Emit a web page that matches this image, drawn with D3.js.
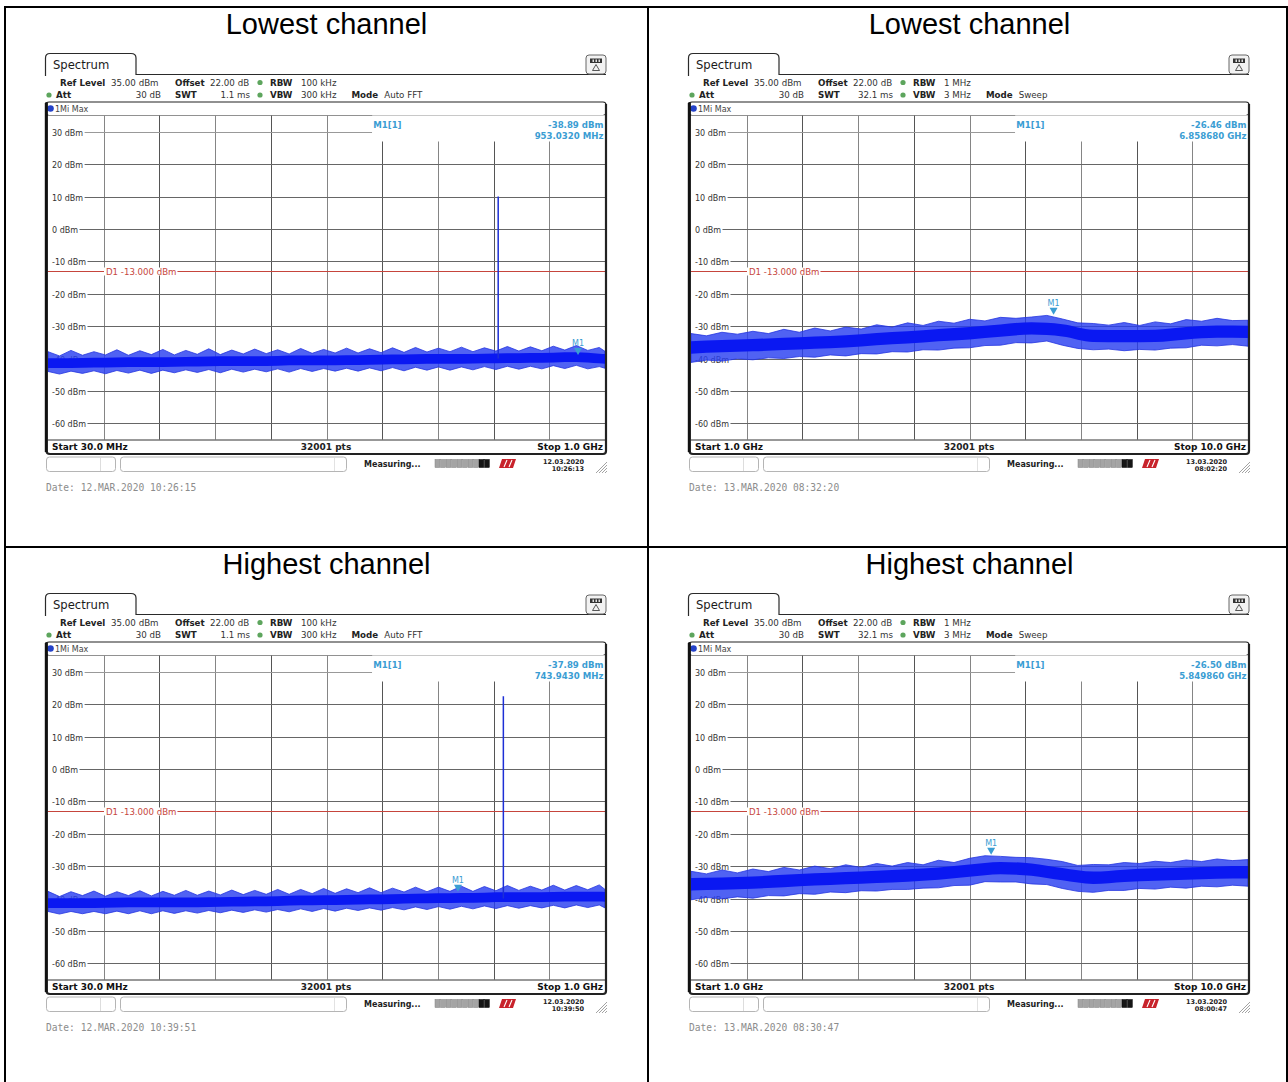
<!DOCTYPE html>
<html><head><meta charset="utf-8">
<script src="https://cdn.jsdelivr.net/npm/d3@7"></script>
<style>body{margin:0;background:#fff}svg{display:block}</style>
</head><body>
<script>
// ---------------- DATA ----------------
const cellTitles = ["Lowest channel", "Lowest channel", "Highest channel", "Highest channel"];
const startFreqMHz = [30, 1000, 30, 1000];
const stopFreqMHz = [1000, 10000, 1000, 10000];
const startLabels = ["Start 30.0 MHz", "Start 1.0 GHz", "Start 30.0 MHz", "Start 1.0 GHz"];
const stopLabels = ["Stop 1.0 GHz", "Stop 10.0 GHz", "Stop 1.0 GHz", "Stop 10.0 GHz"];
const pointsLabel = "32001 pts";
const yTickValues = [30, 20, 10, 0, -10, -20, -30, -40, -50, -60];
const yTickLabels = ["30 dBm", "20 dBm", "10 dBm", "0 dBm", "-10 dBm", "-20 dBm", "-30 dBm", "-40 dBm", "-50 dBm", "-60 dBm"];
const refLevelDbm = 35;
const bottomLevelDbm = -65;
const limitLineDbm = -13;
const limitLabel = "D1  -13.000 dBm";
const refLevelLabel = "35.00 dBm";
const offsetLabel = "22.00 dB";
const attLabel = "30 dB";
const rbwLabels = ["100 kHz", "1 MHz", "100 kHz", "1 MHz"];
const vbwLabels = ["300 kHz", "3 MHz", "300 kHz", "3 MHz"];
const swtLabels = ["1.1 ms", "32.1 ms", "1.1 ms", "32.1 ms"];
const modeLabels = ["Auto FFT", "Sweep", "Auto FFT", "Sweep"];
const traceLabel = "1Mi Max";
const markerName = "M1";
const markerInfoName = "M1[1]";
const markerFreqMHz = [953.032, 6858.68, 743.943, 5849.86];
const markerLevelDbm = [-38.89, -26.46, -37.89, -26.50];
const markerLevelLabels = ["-38.89 dBm", "-26.46 dBm", "-37.89 dBm", "-26.50 dBm"];
const markerFreqLabels = ["953.0320 MHz", "6.858680 GHz", "743.9430 MHz", "5.849860 GHz"];
const spikeFreqMHz = [814, null, 823, null];
const spikeTopDbm = [10.0, null, 22.4, null];
const screenDates = ["12.03.2020", "13.03.2020", "12.03.2020", "13.03.2020"];
const screenTimes = ["10:26:13", "08:02:20", "10:39:50", "08:00:47"];
const footerLabels = ["Date: 12.MAR.2020  10:26:15", "Date: 13.MAR.2020  08:32:20", "Date: 12.MAR.2020  10:39:51", "Date: 13.MAR.2020  08:30:47"];
const statusLabel = "Measuring...";

// noise envelope, 30 MHz - 1 GHz panels (outer, every 20 MHz)
const freqOuterLow = [30,50,70,90,110,130,150,170,190,210,230,250,270,290,310,330,350,370,390,410,430,450,470,490,510,530,550,570,590,610,630,650,670,690,710,730,750,770,790,810,830,850,870,890,910,930,950,970,990,1000];
const p1OuterHi = [-37.9,-39.2,-37.5,-39.0,-37.9,-38.9,-37.3,-39.0,-37.6,-38.8,-37.2,-38.9,-37.5,-38.7,-37.0,-38.8,-37.4,-38.6,-37.1,-38.5,-37.3,-38.6,-36.9,-38.4,-37.2,-38.3,-36.8,-38.3,-37.0,-38.2,-36.7,-38.1,-36.6,-38.0,-36.8,-37.9,-36.5,-37.9,-36.7,-37.7,-36.3,-37.7,-36.4,-37.6,-36.2,-37.4,-36.0,-37.5,-36.6,-37.8];
const p1OuterLo = [-44.0,-44.8,-43.9,-44.6,-43.8,-44.7,-43.7,-44.5,-43.6,-44.6,-43.6,-44.4,-43.5,-44.3,-43.4,-44.4,-43.3,-44.2,-43.3,-44.1,-43.2,-44.2,-43.1,-44.0,-43.1,-43.9,-43.0,-43.9,-42.9,-43.8,-42.8,-43.8,-42.7,-43.6,-42.6,-43.6,-42.6,-43.5,-42.5,-43.4,-42.4,-43.3,-42.4,-43.2,-42.2,-43.1,-42.1,-43.2,-42.5,-43.0];
const p3OuterHi = [-37.8,-39.4,-37.9,-39.1,-37.7,-39.3,-37.9,-39.1,-37.6,-39.2,-37.8,-39.0,-37.5,-39.0,-37.7,-38.9,-37.4,-38.8,-37.5,-38.7,-37.2,-38.7,-37.2,-38.5,-36.9,-38.4,-37.0,-38.2,-36.7,-38.2,-36.8,-38.0,-36.5,-37.9,-36.5,-37.8,-36.2,-37.8,-36.3,-37.6,-36.0,-37.5,-36.2,-37.4,-35.9,-37.4,-36.0,-37.3,-35.8,-37.2];
const p3OuterLo = [-44.0,-44.8,-44.0,-44.7,-44.0,-44.7,-43.9,-44.7,-43.8,-44.7,-43.8,-44.6,-43.8,-44.5,-43.7,-44.4,-43.6,-44.3,-43.5,-44.2,-43.4,-44.1,-43.2,-44.0,-43.1,-43.9,-43.0,-43.7,-42.9,-43.6,-42.8,-43.5,-42.6,-43.4,-42.5,-43.3,-42.4,-43.2,-42.3,-43.1,-42.2,-43.0,-42.2,-42.9,-42.1,-42.9,-42.0,-42.8,-42.0,-42.9];
// dense core of the band (every 40 MHz)
const freqCoreLow = [30,70,110,150,190,230,270,310,350,390,430,470,510,550,590,630,670,710,750,790,830,870,910,950,990,1000];
const p1CoreHi = [-39.9,-39.9,-39.8,-39.7,-39.6,-39.6,-39.5,-39.4,-39.3,-39.3,-39.2,-39.1,-39.1,-39.0,-38.9,-38.8,-38.7,-38.6,-38.6,-38.5,-38.4,-38.3,-38.2,-38.1,-38.5,-38.6];
const p1CoreLo = [-42.9,-42.9,-42.8,-42.7,-42.6,-42.6,-42.5,-42.4,-42.3,-42.3,-42.2,-42.1,-42.1,-42.0,-41.9,-41.8,-41.7,-41.6,-41.6,-41.5,-41.4,-41.3,-41.2,-41.1,-41.5,-41.6];
const p3CoreHi = [-39.9,-39.9,-39.9,-39.8,-39.7,-39.7,-39.7,-39.6,-39.5,-39.4,-39.3,-39.1,-39.0,-38.9,-38.8,-38.7,-38.5,-38.4,-38.3,-38.2,-38.1,-38.1,-38.0,-37.9,-37.9,-38.0];
const p3CoreLo = [-42.9,-42.9,-42.9,-42.8,-42.7,-42.7,-42.7,-42.6,-42.5,-42.4,-42.3,-42.1,-42.0,-41.9,-41.8,-41.7,-41.5,-41.4,-41.3,-41.2,-41.1,-41.1,-41.0,-40.9,-40.9,-41.0];

// noise envelope, 1 GHz - 10 GHz panels (outer every 250 MHz, core every 500 MHz)
const freqOuterHigh = [1000,1250,1500,1750,2000,2250,2500,2750,3000,3250,3500,3750,4000,4250,4500,4750,5000,5250,5500,5750,6000,6250,6500,6750,7000,7250,7500,7750,8000,8250,8500,8750,9000,9250,9500,9750,10000];
const p2OuterHi = [-32.3,-33.0,-31.9,-32.5,-31.6,-32.3,-31.0,-31.9,-30.6,-31.5,-30.3,-30.9,-29.6,-30.3,-29.0,-29.8,-28.5,-29.1,-27.9,-28.4,-27.3,-27.6,-27.2,-26.7,-27.8,-29.0,-29.2,-29.7,-28.9,-29.8,-28.7,-29.3,-28.0,-28.5,-27.6,-28.3,-28.2];
const p2OuterLo = [-41.2,-40.5,-40.8,-40.1,-40.4,-39.8,-40.0,-39.4,-39.6,-38.9,-39.2,-38.5,-38.6,-37.9,-38.0,-37.3,-37.4,-36.8,-36.7,-36.0,-35.9,-35.1,-35.2,-34.6,-35.9,-36.9,-37.3,-37.1,-37.6,-37.2,-37.4,-36.8,-36.7,-35.9,-36.1,-35.7,-36.2];
const p4OuterHi = [-31.6,-32.4,-31.2,-32.1,-30.9,-31.7,-30.4,-31.2,-30.0,-30.8,-29.6,-30.4,-29.2,-30.0,-28.9,-29.6,-28.2,-28.9,-27.6,-26.8,-27.0,-27.3,-27.4,-27.9,-28.6,-29.8,-29.5,-29.6,-28.9,-29.2,-28.5,-28.9,-28.1,-28.6,-27.8,-28.3,-28.0];
const p4OuterLo = [-40.4,-39.7,-40.1,-39.5,-39.9,-39.1,-39.2,-38.5,-38.7,-38.0,-38.2,-37.6,-37.7,-37.2,-37.2,-36.8,-36.7,-36.0,-35.9,-34.8,-34.9,-34.9,-35.5,-35.7,-36.9,-37.8,-38.1,-37.5,-37.5,-36.9,-37.1,-36.5,-36.8,-36.2,-36.4,-35.9,-36.2];
const freqCoreHigh = [1000,1500,2000,2500,3000,3500,4000,4500,5000,5500,6000,6500,7000,7500,8000,8500,9000,9500,10000];
const p2CoreHi = [-34.7,-34.3,-34.0,-33.6,-33.2,-32.8,-32.1,-31.6,-30.9,-30.3,-29.5,-28.8,-29.4,-31.1,-31.2,-31.1,-30.3,-29.8,-29.9];
const p2CoreLo = [-38.5,-38.1,-37.8,-37.4,-37.0,-36.6,-35.9,-35.4,-34.7,-34.1,-33.3,-32.6,-33.2,-34.9,-35.0,-34.9,-34.1,-33.6,-33.7];
const p4CoreHi = [-33.7,-33.5,-33.2,-32.7,-32.2,-31.8,-31.4,-31.0,-30.4,-29.5,-28.7,-29.2,-30.6,-31.7,-31.1,-30.7,-30.4,-30.1,-30.0];
const p4CoreLo = [-37.5,-37.3,-37.0,-36.5,-36.0,-35.6,-35.2,-34.8,-34.2,-33.3,-32.5,-33.0,-34.4,-35.5,-34.9,-34.5,-34.2,-33.9,-33.8];

const outerFreqs = [freqOuterLow, freqOuterHigh, freqOuterLow, freqOuterHigh];
const outerHi = [p1OuterHi, p2OuterHi, p3OuterHi, p4OuterHi];
const outerLo = [p1OuterLo, p2OuterLo, p3OuterLo, p4OuterLo];
const coreFreqs = [freqCoreLow, freqCoreHigh, freqCoreLow, freqCoreHigh];
const coreHi = [p1CoreHi, p2CoreHi, p3CoreHi, p4CoreHi];
const coreLo = [p1CoreLo, p2CoreLo, p3CoreLo, p4CoreLo];

// ---------------- DRAWING ----------------
const W = 1288, H = 1082;
const SANS = "DejaVu Sans, Verdana, sans-serif";
const MARK = "#3a9dd3";
const svg = d3.select("body").append("svg").attr("width", W).attr("height", H);
svg.append("rect").attr("width", W).attr("height", H).attr("fill", "#fff");

const colStep = 643, rowStep = 540;

function txt(g, x, y, s, opt = {}) {
  return g.append("text").attr("x", x).attr("y", y)
    .attr("font-family", opt.family || SANS)
    .attr("font-size", opt.size || 8)
    .attr("font-weight", opt.weight || "normal")
    .attr("fill", opt.fill || "#222")
    .attr("text-anchor", opt.anchor || "start")
    .text(s);
}

function drawPanel(g, i) {
  const L = 48, R = 605, T = 115.5, B = 439.5;
  const x = d3.scaleLinear().domain([startFreqMHz[i], stopFreqMHz[i]]).range([L, R]);
  const y = d3.scaleLinear().domain([bottomLevelDbm, refLevelDbm]).range([B, T]);

  // cell title
  txt(g, 326.5, 34, cellTitles[i], {family: "Liberation Sans, Arial, sans-serif", size: 29, fill: "#000", anchor: "middle"});

  // tab + header line
  g.append("path").attr("d", "M45.5,76 L45.5,58 Q45.5,53.5 50,53.5 L131,53.5 Q136,53.5 136,58 L136,74.5 L606,74.5")
    .attr("fill", "none").attr("stroke", "#2a2a2a").attr("stroke-width", 1.2);
  txt(g, 53, 69, "Spectrum", {size: 11.6, fill: "#1a1a1a"});

  // top right icon
  g.append("rect").attr("x", 586).attr("y", 55).attr("width", 20).attr("height", 19).attr("rx", 3)
    .attr("fill", "#f2f2f2").attr("stroke", "#666").attr("stroke-width", 1);
  g.append("rect").attr("x", 590).attr("y", 58.5).attr("width", 12).attr("height", 4.5).attr("fill", "#333");
  [592.5, 595.5, 598.5].forEach(px => g.append("rect").attr("x", px).attr("y", 59.5).attr("width", 1.5).attr("height", 2.5).attr("fill", "#ddd"));
  g.append("path").attr("d", "M596,64.5 L599.5,70.5 L592.5,70.5 Z").attr("fill", "none").attr("stroke", "#444").attr("stroke-width", 0.9);

  // header parameters
  const hs = 8.7;
  const r1 = 85.5, r2 = 98;
  txt(g, 60, r1, "Ref Level", {size: hs, weight: "bold"});
  txt(g, 111, r1, refLevelLabel, {size: hs, fill: "#333"});
  txt(g, 175, r1, "Offset", {size: hs, weight: "bold"});
  txt(g, 210, r1, offsetLabel, {size: hs, fill: "#333"});
  g.append("circle").attr("cx", 260).attr("cy", r1 - 3).attr("r", 2.6).attr("fill", "#5da55d");
  txt(g, 270, r1, "RBW", {size: hs, weight: "bold"});
  txt(g, 301, r1, rbwLabels[i], {size: hs, fill: "#333"});

  g.append("circle").attr("cx", 49).attr("cy", r2 - 3).attr("r", 2.6).attr("fill", "#5da55d");
  txt(g, 56, r2, "Att", {size: hs, weight: "bold"});
  txt(g, 161, r2, attLabel, {size: hs, fill: "#333", anchor: "end"});
  txt(g, 175, r2, "SWT", {size: hs, weight: "bold"});
  txt(g, 250, r2, swtLabels[i], {size: hs, fill: "#333", anchor: "end"});
  g.append("circle").attr("cx", 260).attr("cy", r2 - 3).attr("r", 2.6).attr("fill", "#5da55d");
  txt(g, 270, r2, "VBW", {size: hs, weight: "bold"});
  const vb = txt(g, 301, r2, vbwLabels[i], {size: hs, fill: "#333"});
  const modeX = 301 + vb.node().getComputedTextLength() + 15;
  const mt = txt(g, modeX, r2, "Mode", {size: hs, weight: "bold"});
  txt(g, modeX + mt.node().getComputedTextLength() + 6, r2, modeLabels[i], {size: hs, fill: "#333"});

  // trace label bar
  g.append("rect").attr("x", 46).attr("y", 102).attr("width", 560).attr("height", 13.5).attr("rx", 3)
    .attr("fill", "#fff").attr("stroke", "#222").attr("stroke-width", 1.2);
  g.append("circle").attr("cx", 50.5).attr("cy", 108.5).attr("r", 3.3).attr("fill", "#2442c8");
  txt(g, 55, 111.5, traceLabel, {size: 8, fill: "#444"});

  // plot background
  g.append("rect").attr("x", L).attr("y", T).attr("width", R - L).attr("height", B - T).attr("fill", "#fff");

  // vertical grid
  const span = stopFreqMHz[i] - startFreqMHz[i];
  const maskX = L + 0.582 * (R - L);
  d3.range(1, 10).forEach(k => {
    const xx = Math.round(x(startFreqMHz[i] + k * span / 10)) + 0.5;
    g.append("line").attr("x1", xx).attr("x2", xx).attr("y1", xx > maskX ? 141.5 : T).attr("y2", B)
      .attr("stroke", k % 2 ? "#858585" : "#555").attr("stroke-width", 1);
  });

  // horizontal grid + labels
  yTickValues.forEach((v, k) => {
    const yy = Math.round(y(v)) + 0.5;
    const t = txt(g, 52, yy + 3, yTickLabels[k], {size: 8, fill: "#333"});
    const x0 = 52 + t.node().getComputedTextLength() + 1.5;
    g.append("line").attr("x1", x0).attr("x2", v === 30 ? maskX : R).attr("y1", yy).attr("y2", yy)
      .attr("stroke", v === 30 ? "#999" : "#666").attr("stroke-width", 1);
  });

  // limit line D1
  const yl = Math.round(y(limitLineDbm)) + 0.5;
  g.append("line").attr("x1", L).attr("x2", R).attr("y1", yl).attr("y2", yl).attr("stroke", "#c6453c").attr("stroke-width", 1);
  const dl = txt(g, 106, yl + 3, limitLabel, {size: 8.6, fill: "#c6453c"});
  const dw = dl.node().getComputedTextLength();
  g.insert("rect", () => dl.node()).attr("x", 104).attr("y", yl - 4).attr("width", dw + 3).attr("height", 8).attr("fill", "#fff");

  // trace
  const clipId = "clip" + i;
  g.append("clipPath").attr("id", clipId).append("rect").attr("x", L).attr("y", T).attr("width", R - L).attr("height", B - T);
  const tg = g.append("g").attr("clip-path", `url(#${clipId})`);
  const outer = outerFreqs[i].map((f, k) => ({f, hi: outerHi[i][k], lo: outerLo[i][k]}));
  const core = coreFreqs[i].map((f, k) => ({f, hi: coreHi[i][k], lo: coreLo[i][k]}));
  const area = d3.area().x(d => x(d.f)).y0(d => y(d.lo)).y1(d => y(d.hi));
  tg.append("path").datum(outer).attr("d", area).attr("fill", "#2a3ff0").attr("fill-opacity", 0.82)
    .attr("stroke", "#2435e0").attr("stroke-width", 0.8).attr("stroke-linejoin", "miter");
  tg.append("path").datum(core).attr("d", d3.area().x(d => x(d.f)).y0(d => y(d.lo)).y1(d => y(d.hi)).curve(d3.curveMonotoneX))
    .attr("fill", "#0a18f2");
  if (spikeFreqMHz[i] !== null) {
    const sx = x(spikeFreqMHz[i]);
    tg.append("line").attr("x1", sx).attr("x2", sx).attr("y1", y(-40)).attr("y2", y(spikeTopDbm[i]))
      .attr("stroke", "#1d2fd6").attr("stroke-width", 1.5);
  }

  // marker
  const mx = x(markerFreqMHz[i]), my = y(markerLevelDbm[i]);
  g.append("path").attr("d", `M${mx - 4},${my - 7} L${mx + 4},${my - 7} L${mx},${my} Z`).attr("fill", MARK);
  txt(g, mx, my - 9, markerName, {size: 8, fill: MARK, anchor: "middle"});

  // marker info area
  g.append("rect").attr("x", maskX).attr("y", T).attr("width", R - maskX).attr("height", 141 - T).attr("fill", "#fff");
  txt(g, maskX + 1, 127.5, markerInfoName, {size: 8.6, weight: "bold", fill: MARK});
  txt(g, 603.5, 127.5, markerLevelLabels[i], {size: 8.6, weight: "bold", fill: MARK, anchor: "end"});
  txt(g, 603.5, 138.5, markerFreqLabels[i], {size: 8.6, weight: "bold", fill: MARK, anchor: "end"});

  // frame
  g.append("line").attr("x1", L).attr("x2", R).attr("y1", 440).attr("y2", 440).attr("stroke", "#333").attr("stroke-width", 1);
  g.append("path").attr("d", "M46.5,102 L46.5,451 Q46.5,454 50,454 L603,454 Q606,454 606,451 L606,104")
    .attr("fill", "none").attr("stroke", "#222").attr("stroke-width", 2.2);
  g.append("line").attr("x1", 46.3).attr("x2", 46.3).attr("y1", 103).attr("y2", 452).attr("stroke", "#111").attr("stroke-width", 3);

  // start / stop strip
  txt(g, 52, 449.5, startLabels[i], {size: 9, weight: "bold", fill: "#111"});
  txt(g, 326, 449.5, pointsLabel, {size: 9, weight: "bold", fill: "#222", anchor: "middle"});
  txt(g, 603, 449.5, stopLabels[i], {size: 9, weight: "bold", fill: "#111", anchor: "end"});

  // status bar
  g.append("rect").attr("x", 46.5).attr("y", 457).attr("width", 69).attr("height", 14.5).attr("rx", 3)
    .attr("fill", "#fff").attr("stroke", "#b5b5b5").attr("stroke-width", 1);
  g.append("line").attr("x1", 100.5).attr("x2", 100.5).attr("y1", 458).attr("y2", 471).attr("stroke", "#ddd");
  g.append("rect").attr("x", 120.5).attr("y", 457).attr("width", 226).attr("height", 14.5).attr("rx", 3)
    .attr("fill", "#fff").attr("stroke", "#b5b5b5").attr("stroke-width", 1);
  g.append("line").attr("x1", 334.5).attr("x2", 334.5).attr("y1", 458).attr("y2", 471).attr("stroke", "#e2e2e2");
  txt(g, 364, 467, statusLabel, {size: 8, weight: "bold", fill: "#222"});
  d3.range(10).forEach(k => {
    g.append("rect").attr("x", 435 + k * 5.5).attr("y", 459.5).attr("width", 4.8).attr("height", 8)
      .attr("fill", k >= 8 ? "#151515" : "#a4a4a4").attr("stroke", k >= 8 ? "#000" : "#808080").attr("stroke-width", 0.5);
  });
  g.append("path").attr("d", "M499,468 L502,459 L516,459 L513,468 Z").attr("fill", "#c8232b");
  g.append("path").attr("d", "M504,467 L507,460 M509,467 L512,460").attr("stroke", "#fff").attr("stroke-width", 1.1);
  txt(g, 584, 463.5, screenDates[i], {size: 6.5, weight: "bold", fill: "#222", anchor: "end"});
  txt(g, 584, 470.5, screenTimes[i], {size: 6.5, weight: "bold", fill: "#222", anchor: "end"});
  [0, 3, 6, 9].forEach(o => g.append("line").attr("x1", 596 + o).attr("y1", 473).attr("x2", 607).attr("y2", 462 + o)
    .attr("stroke", "#999").attr("stroke-width", 0.9));

  // footer date
  txt(g, 46, 491, footerLabels[i], {family: "DejaVu Sans Mono, monospace", size: 9.6, fill: "#8c8c8c"});
}

cellTitles.forEach((_, i) => {
  const g = svg.append("g").attr("transform", `translate(${(i % 2) * colStep},${Math.floor(i / 2) * rowStep})`);
  drawPanel(g, i);
});

// table borders
const tb = svg.append("g").attr("stroke", "#000").attr("stroke-width", 2);
[5, 648, 1287].forEach(px => tb.append("line").attr("x1", px).attr("x2", px).attr("y1", 6).attr("y2", H));
[7, 547].forEach(py => tb.append("line").attr("x1", 4).attr("x2", W).attr("y1", py).attr("y2", py));
</script>
</body></html>
